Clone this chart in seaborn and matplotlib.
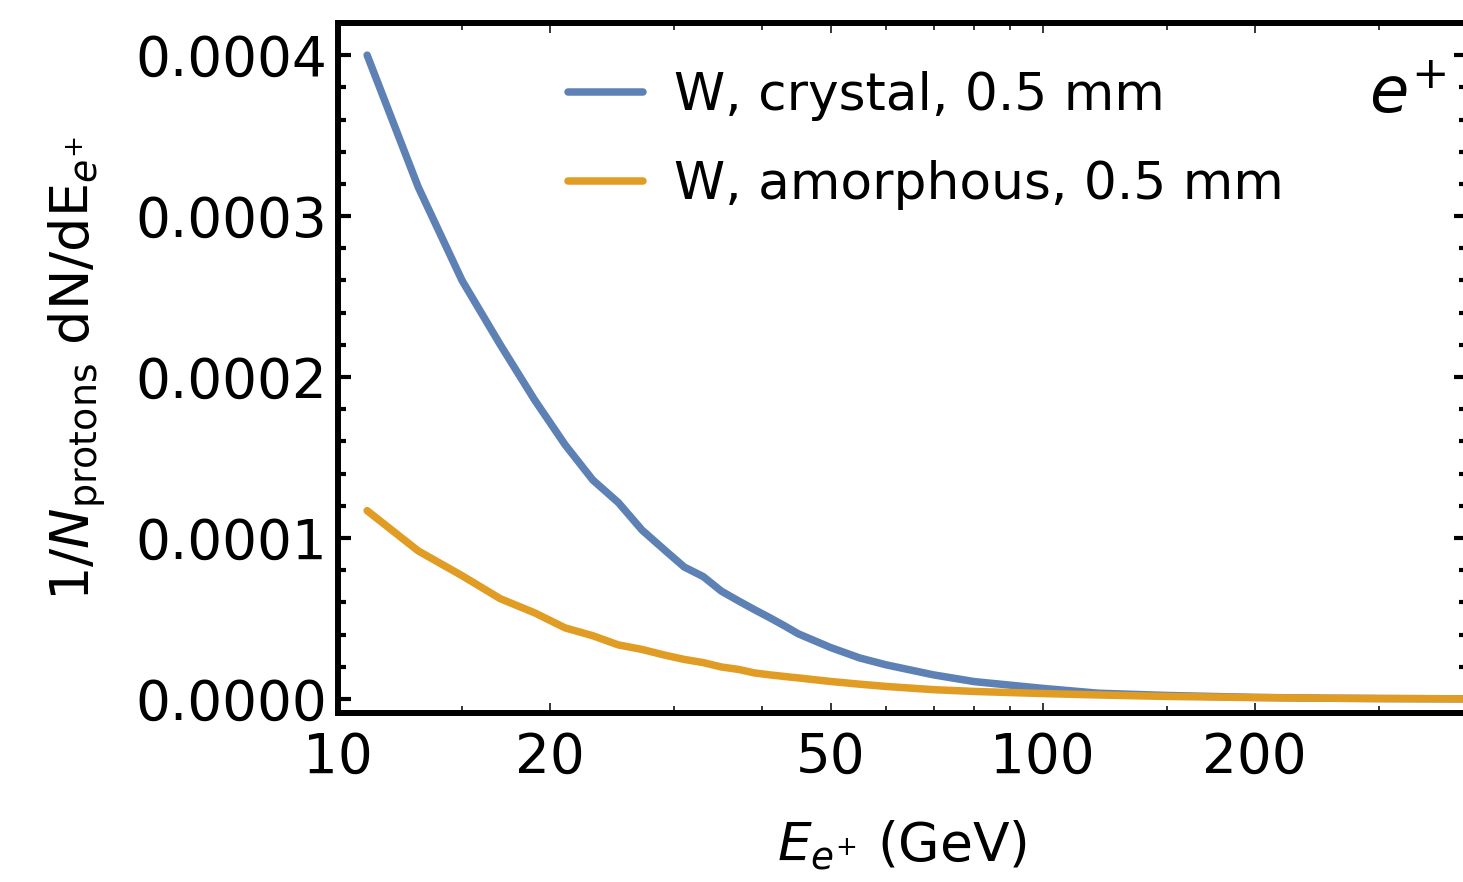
import numpy as np
import pandas as pd
import seaborn as sns
import matplotlib
matplotlib.use('Agg')
import matplotlib.pyplot as plt
from matplotlib.ticker import FixedLocator, FuncFormatter, NullFormatter

# positron energy grid (GeV) and spectra (per GeV)
energy = [11, 13, 15, 17, 19, 21, 23, 25, 27, 29, 31, 33, 35, 37, 39, 41, 43, 45,
          50, 55, 60, 70, 80, 100, 120, 150, 200, 250, 300, 400]
crystal = [4.00, 3.18, 2.60, 2.20, 1.86, 1.58, 1.36, 1.22, 1.05, 0.93, 0.82, 0.76,
           0.67, 0.61, 0.555, 0.505, 0.455, 0.405, 0.32, 0.255, 0.212, 0.15, 0.108,
           0.066, 0.036, 0.022, 0.010, 0.005, 0.003, 0.001]
amorphous = [1.17, 0.92, 0.766, 0.623, 0.536, 0.442, 0.393, 0.336, 0.308, 0.274,
             0.246, 0.226, 0.199, 0.184, 0.162, 0.150, 0.140, 0.131, 0.109, 0.092,
             0.078, 0.058, 0.047, 0.034, 0.025, 0.016, 0.009, 0.005, 0.003, 0.001]
labels = ['W, crystal, 0.5 mm', 'W, amorphous, 0.5 mm']
colors = ['#5E81B5', '#E19C24']

x_major = [10, 20, 50, 100, 200]
x_minor = [15, 30, 40, 60, 70, 80, 90, 150, 300]
y_major = [0, 0.0001, 0.0002, 0.0003, 0.0004]
y_minor = [0.00002 * i for i in range(0, 22) if i % 5 != 0]

df = pd.concat([
    pd.DataFrame({'E': energy, 'dN': np.array(crystal) * 1e-4, 'target': labels[0]}),
    pd.DataFrame({'E': energy, 'dN': np.array(amorphous) * 1e-4, 'target': labels[1]}),
])

sns.set_style('ticks')
plt.rcParams['font.family'] = ['DejaVu Sans']
plt.rcParams['mathtext.fontset'] = 'dejavusans'
plt.rcParams['text.color'] = 'black'
plt.rcParams['axes.labelcolor'] = 'black'
plt.rcParams['xtick.color'] = 'black'
plt.rcParams['ytick.color'] = 'black'

fig = plt.figure(figsize=(14.63, 8.82), dpi=100)
ax = fig.add_axes([0.231, 0.1916, 1.0027 - 0.231, 0.974 - 0.1916])

sns.lineplot(data=df, x='E', y='dN', hue='target', palette=colors,
             linewidth=5.4, ax=ax, legend=True)

ax.set_xscale('log')
ax.set_xlim(10, 400)
ax.set_ylim(-0.0000087, 0.00042)

ax.xaxis.set_major_locator(FixedLocator(x_major))
ax.xaxis.set_minor_locator(FixedLocator(x_minor))
ax.xaxis.set_major_formatter(FuncFormatter(lambda v, p: f'{v:g}'))
ax.xaxis.set_minor_formatter(NullFormatter())
ax.yaxis.set_major_locator(FixedLocator(y_major))
ax.yaxis.set_minor_locator(FixedLocator(y_minor))
ax.yaxis.set_major_formatter(FuncFormatter(lambda v, p: f'{v:.4f}'))

for s in ax.spines.values():
    s.set_linewidth(4.3)
    s.set_color('black')

ax.tick_params(axis='x', which='both', direction='in', top=True, width=1.1,
               labelsize=39.5, pad=13)
ax.tick_params(axis='x', which='major', length=7)
ax.tick_params(axis='x', which='minor', length=5)
ax.tick_params(axis='y', which='both', direction='in', right=True, width=3,
               labelsize=39.5, pad=8)
ax.tick_params(axis='y', which='major', length=9.5)
ax.tick_params(axis='y', which='minor', length=5.5)

ax.set_xlabel(r'$E_{e^{+}}$ (GeV)', fontsize=38.5, labelpad=24)
ax.set_ylabel(r'$1/N_{\mathrm{protons}}\ \mathrm{dN/dE}_{e^{+}}$', fontsize=39,
              labelpad=19)

ax.text(0.947, 0.895, r'$e^{+}$', transform=ax.transAxes, fontsize=46,
        ha='center', va='center')

ax.legend(loc='upper left', bbox_to_anchor=(0.185, 0.96), frameon=False,
          fontsize=37.3, handlelength=1.45, handletextpad=0.6, labelspacing=0.75,
          borderaxespad=0)

fig.savefig('out.png', dpi=100)
